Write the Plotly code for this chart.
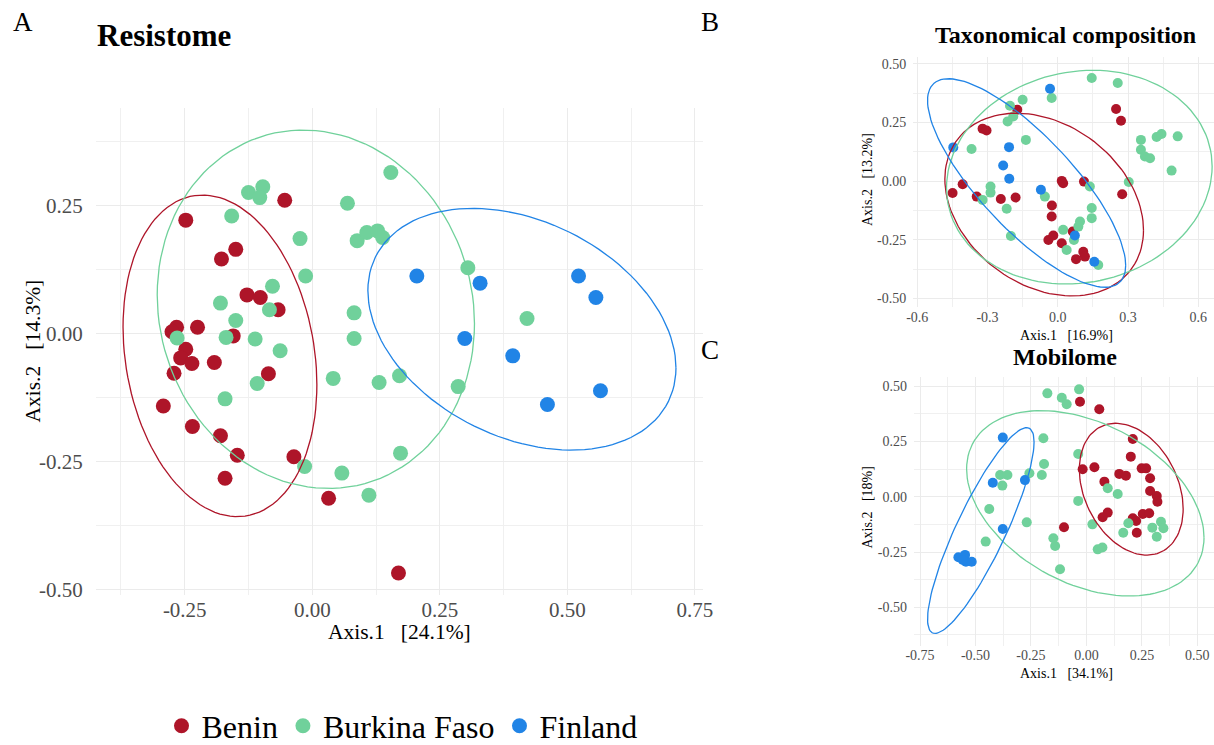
import numpy as np
import plotly.graph_objects as go

# ---------------- data ----------------
countries = ["Benin", "Burkina Faso", "Finland"]
colors = {"Benin": "#AE1529", "Burkina Faso": "#70D19B", "Finland": "#2184E6"}

# Panel A: Resistome
res_benin_x = [-0.054, -0.248, -0.150, -0.178, -0.128, -0.102, -0.067, -0.266, -0.275, -0.225, -0.155, -0.248, -0.258,
               -0.236, -0.192, -0.271, -0.086, -0.292, -0.235, -0.180, -0.147, -0.036, -0.171, 0.032, 0.169]
res_benin_y = [0.260, 0.221, 0.164, 0.145, 0.075, 0.070, 0.046, 0.012, 0.003, 0.012, -0.005, -0.031, -0.048,
               -0.059, -0.057, -0.078, -0.079, -0.142, -0.182, -0.200, -0.238, -0.241, -0.283, -0.322, -0.468]
res_burkina_x = [0.154, -0.125, -0.097, -0.103, -0.158, 0.069, -0.024, -0.013, 0.088, 0.107, 0.128, 0.138, -0.078,
                 -0.180, -0.084, -0.150, 0.082, -0.265, -0.169, -0.112, -0.063, 0.082, -0.108, -0.171, -0.015, 0.058,
                 0.111, 0.041, 0.131, 0.305, 0.421, 0.171, 0.286, 0.173]
res_burkina_y = [0.314, 0.275, 0.286, 0.265, 0.229, 0.254, 0.185, 0.112, 0.181, 0.197, 0.200, 0.187, 0.092,
                 0.059, 0.046, 0.025, 0.040, -0.009, -0.008, -0.011, -0.034, -0.010, -0.098, -0.128, -0.260, -0.273,
                 -0.316, -0.088, -0.096, 0.128, 0.029, -0.083, -0.104, -0.234]
res_finland_x = [0.205, 0.329, 0.522, 0.556, 0.299, 0.393, 0.565, 0.461]
res_finland_y = [0.112, 0.098, 0.112, 0.070, -0.010, -0.044, -0.112, -0.139]

# Panel B: Taxonomical composition
tax_benin_x = [0.249, 0.270, -0.173, -0.321, -0.304, -0.449, -0.406, -0.346, -0.243, -0.180, 0.017, 0.023, 0.112,
               0.275, -0.025, -0.026, -0.040, -0.019, 0.017, 0.064, 0.109, 0.116, 0.078]
tax_benin_y = [0.308, 0.258, 0.305, 0.224, 0.216, -0.051, -0.013, -0.066, -0.076, -0.070, 0.001, -0.009, -0.002,
               -0.056, -0.104, -0.151, -0.251, -0.232, -0.265, -0.215, -0.301, -0.322, -0.333]
tax_burkina_x = [0.145, 0.256, -0.150, -0.026, -0.204, -0.190, -0.214, -0.136, -0.368, 0.355, 0.355, 0.372, 0.394,
                 0.422, 0.443, 0.512, 0.486, 0.303, -0.287, -0.287, -0.321, -0.218, -0.055, 0.137, 0.145, 0.145,
                 0.095, 0.088, 0.023, 0.069, 0.038, -0.200, 0.173]
tax_burkina_y = [0.440, 0.419, 0.347, 0.355, 0.322, 0.276, 0.255, 0.176, 0.137, 0.176, 0.134, 0.105, 0.098,
                 0.188, 0.201, 0.191, 0.045, -0.004, -0.023, -0.049, -0.080, -0.118, -0.066, -0.023, -0.115, -0.158,
                 -0.172, -0.194, -0.208, -0.251, -0.294, -0.234, -0.358]
tax_finland_x = [-0.033, -0.446, -0.208, -0.233, -0.207, -0.072, 0.073, 0.156]
tax_finland_y = [0.394, 0.144, 0.145, 0.067, 0.010, -0.037, -0.232, -0.344]

# Panel C: Mobilome
mob_benin_x = [-0.029, 0.058, 0.209, 0.200, -0.017, 0.036, 0.148, 0.178, 0.249, 0.269, 0.287, 0.081, 0.287, 0.317,
               0.320, 0.096, 0.073, 0.209, 0.224, 0.254, 0.283, -0.101, 0.227]
mob_benin_y = [0.429, 0.395, 0.261, 0.181, 0.124, 0.133, 0.103, 0.095, 0.128, 0.128, 0.083, 0.068, 0.026, 0.003,
               -0.023, -0.072, -0.093, -0.098, -0.110, -0.078, -0.075, -0.138, -0.163]
mob_burkina_x = [-0.176, -0.033, -0.111, -0.089, -0.194, -0.037, -0.191, -0.201, -0.257, -0.389, -0.356, -0.379,
                 -0.438, -0.454, -0.269, -0.149, -0.141, -0.119, -0.037, 0.096, 0.141, 0.027, 0.051, 0.072, 0.166,
                 0.189, 0.297, 0.317, 0.336, 0.347]
mob_burkina_y = [0.467, 0.485, 0.447, 0.418, 0.264, 0.193, 0.148, 0.098, 0.106, 0.098, 0.098, 0.050, -0.056,
                 -0.203, -0.116, -0.188, -0.223, -0.328, -0.019, 0.038, 0.012, -0.125, -0.238, -0.230, -0.163,
                 -0.120, -0.140, -0.181, -0.113, -0.143]
mob_finland_x = [-0.377, -0.422, -0.277, -0.377, -0.577, -0.547, -0.543, -0.517, -0.557]
mob_finland_y = [0.267, 0.063, 0.075, -0.146, -0.274, -0.263, -0.294, -0.294, -0.286]

# 95% ellipses: [center x, center y, half-width x, half-height y, correlation]
res_ellipses = {"Benin": [-0.181, -0.044, 0.190, 0.314, -0.18],
                "Burkina Faso": [0.007, 0.047, 0.311, 0.350, -0.08],
                "Finland": [0.411, 0.008, 0.302, 0.236, -0.32]}
tax_ellipses = {"Benin": [-0.058, -0.100, 0.424, 0.390, -0.28],
                "Burkina Faso": [0.092, 0.017, 0.567, 0.456, 0.10],
                "Finland": [-0.133, -0.008, 0.423, 0.445, -0.79]}
mob_ellipses = {"Benin": [0.202, 0.034, 0.234, 0.298, -0.30],
                "Burkina Faso": [-0.005, -0.030, 0.535, 0.419, -0.37],
                "Finland": [-0.476, -0.153, 0.240, 0.465, 0.86]}

res_xticks = [-0.25, 0.0, 0.25, 0.5, 0.75]
res_xlabels = ["-0.25", "0.00", "0.25", "0.50", "0.75"]
res_yticks = [-0.5, -0.25, 0.0, 0.25]
res_ylabels = ["-0.50", "-0.25", "0.00", "0.25"]
tax_xticks = [-0.6, -0.3, 0.0, 0.3, 0.6]
tax_xlabels = ["-0.6", "-0.3", "0.0", "0.3", "0.6"]
tax_yticks = [-0.5, -0.25, 0.0, 0.25, 0.5]
tax_ylabels = ["-0.50", "-0.25", "0.00", "0.25", "0.50"]
mob_xticks = [-0.75, -0.5, -0.25, 0.0, 0.25, 0.5]
mob_xlabels = ["-0.75", "-0.50", "-0.25", "0.00", "0.25", "0.50"]
mob_yticks = [-0.5, -0.25, 0.0, 0.25, 0.5]
mob_ylabels = ["-0.50", "-0.25", "0.00", "0.25", "0.50"]

# ---------------- figure ----------------
W, H = 1214, 745
SERIF = "Liberation Serif, Times New Roman, serif"


def fx(p):
    return p / W


def fy(p):
    return 1 - p / H


def ellipse(params, n=121):
    cx, cy, hx, hy, rho = params
    t = np.linspace(0, 2 * np.pi, n)
    return cx + hx * np.cos(t), cy + hy * (rho * np.cos(t) + np.sqrt(1 - rho ** 2) * np.sin(t))


fig = go.Figure()

panels = [
    ("x", "y", [(res_benin_x, res_benin_y), (res_burkina_x, res_burkina_y), (res_finland_x, res_finland_y)],
     res_ellipses, 15, True),
    ("x2", "y2", [(tax_benin_x, tax_benin_y), (tax_burkina_x, tax_burkina_y), (tax_finland_x, tax_finland_y)],
     tax_ellipses, 10, False),
    ("x3", "y3", [(mob_benin_x, mob_benin_y), (mob_burkina_x, mob_burkina_y), (mob_finland_x, mob_finland_y)],
     mob_ellipses, 10, False),
]

for xa, ya, pts, ells, msize, show in panels:
    for c, (xs, ys) in zip(countries, pts):
        fig.add_trace(go.Scatter(x=xs, y=ys, mode="markers", name=c, legendgroup=c, showlegend=show,
                                 marker=dict(color=colors[c], size=msize, line=dict(width=0)),
                                 xaxis=xa, yaxis=ya))
    for c in countries:
        ex, ey = ellipse(ells[c])
        fig.add_trace(go.Scatter(x=ex, y=ey, mode="lines", showlegend=False, legendgroup=c,
                                 line=dict(color=colors[c], width=1.3), hoverinfo="skip",
                                 xaxis=xa, yaxis=ya))

GRID = "#EBEBEB"
TICKC = "#4D4D4D"


def axis_style(domain, rng, tickvals, ticktext, minor0, mdt, fsize, anchor, is_x, standoff, tlen=4):
    d = dict(domain=domain, range=rng, tickmode="array", tickvals=tickvals, ticktext=ticktext,
             showgrid=True, gridcolor=GRID, gridwidth=1.1, zeroline=False, showline=False,
             tickfont=dict(family=SERIF, size=fsize, color=TICKC),
             minor=dict(tickmode="linear", tick0=minor0, dtick=mdt, showgrid=True, gridcolor="#F0F0F0",
                        gridwidth=0.7, ticks=""),
             anchor=anchor, fixedrange=True, automargin=False, ticklabelstandoff=standoff)
    if is_x:
        d.update(ticks="")
    else:
        d.update(ticks="outside", ticklen=tlen, tickcolor="rgba(0,0,0,0)")
    return d


fig.update_layout(
    width=W, height=H, margin=dict(l=0, r=0, t=0, b=0, pad=0, autoexpand=False),
    paper_bgcolor="white", plot_bgcolor="white",
    xaxis=axis_style([fx(96), fx(703)], [-0.424, 0.766], res_xticks, res_xlabels, 0.125, 0.25, 21, "y", True, 0),
    yaxis=axis_style([fy(595), fy(108)], [-0.511, 0.440], res_yticks, res_ylabels, 0.125, 0.25, 21, "x", False, 0,
                     8),
    xaxis2=axis_style([fx(913), 1.0], [-0.618, 0.667], tax_xticks, tax_xlabels, 0.15, 0.3, 14, "y2", True, 0),
    yaxis2=axis_style([fy(306.5), fy(56.7)], [-0.535, 0.531], tax_yticks, tax_ylabels, 0.125, 0.25, 14, "x2",
                      False, -1),
    xaxis3=axis_style([fx(913.8), 1.0], [-0.778, 0.575], mob_xticks, mob_xlabels, 0.125, 0.25, 14, "y3", True, -1),
    yaxis3=axis_style([fy(645.6), fy(377.2)], [-0.673, 0.540], mob_yticks, mob_ylabels, 0.125, 0.25, 14, "x3",
                      False, -1),
    legend=dict(orientation="h", x=fx(402), xanchor="center", y=fy(726), yanchor="middle",
                font=dict(family=SERIF, size=32, color="black"), itemsizing="trace",
                bgcolor="rgba(0,0,0,0)"),
    showlegend=True,
)

NB = "\u00a0\u00a0\u00a0"
ann = [
    ("A", 11, 22, 27, False, "left", 0),
    ("B", 699, 22, 27, False, "left", 0),
    ("C", 699, 350, 27, False, "left", 0),
    ("Resistome", 95, 35, 31, True, "left", 0),
    ("Taxonomical composition", 1065, 35, 24, True, "center", 0),
    ("Mobilome", 1065, 357, 24, True, "center", 0),
    ("Axis.1" + NB + "[24.1%]", 399.5, 632, 21.5, False, "center", 0),
    ("Axis.2" + NB + "[14.3%]", 32, 351.5, 21.5, False, "center", -90),
    ("Axis.1" + NB + "[16.9%]", 1066, 335, 14, False, "center", 0),
    ("Axis.2" + NB + "[13.2%]", 867, 180, 14, False, "center", -90),
    ("Axis.1" + NB + "[34.1%]", 1066, 673, 14, False, "center", 0),
    ("Axis.2" + NB + "[18%]", 867, 507.5, 14, False, "center", -90),
]
for text, x, y, size, bold, xanchor, ang in ann:
    fig.add_annotation(text=("<b>%s</b>" % text) if bold else text, x=fx(x), y=fy(y),
                       xref="paper", yref="paper", showarrow=False, xanchor=xanchor, yanchor="middle",
                       textangle=ang, font=dict(family=SERIF, size=size, color="black"))

fig.write_html("out.html", config={"displayModeBar": False},
               post_script="document.body.style.margin='0';document.body.style.overflow='hidden';")
